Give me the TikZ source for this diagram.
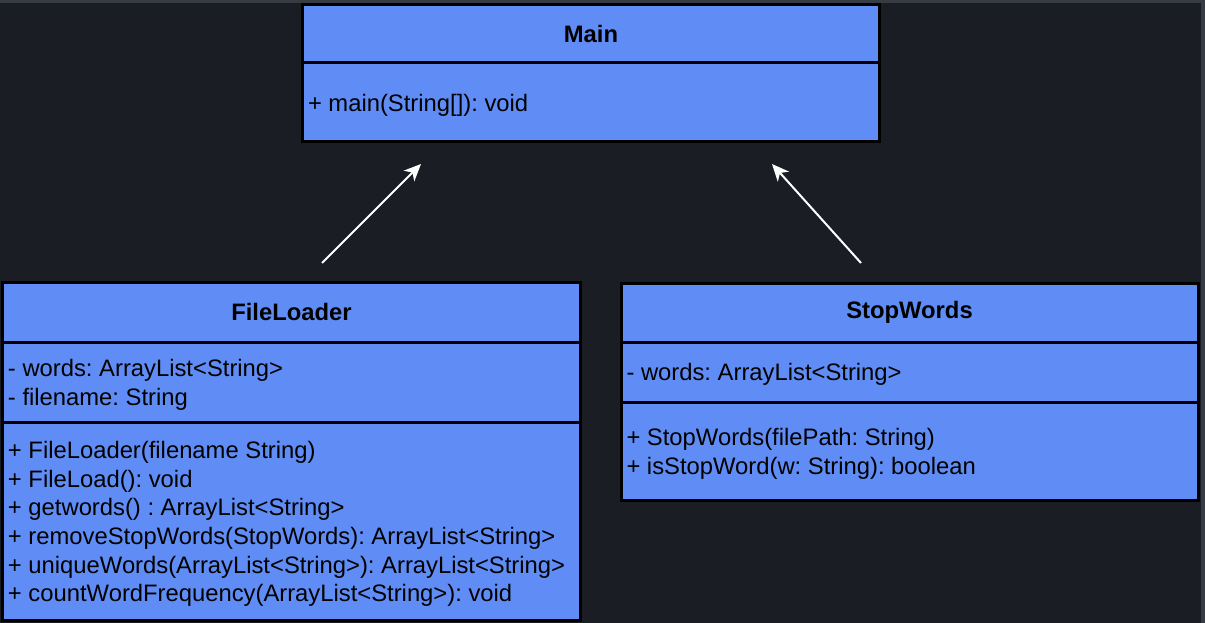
\documentclass[tikz,border=0pt]{standalone}
\usepackage{fontspec}
\setmainfont{Liberation Sans}
\usetikzlibrary{arrows.meta}
\definecolor{bgdark}{RGB}{26,29,35}
\definecolor{frameline}{RGB}{55,59,67}
\definecolor{umlfill}{RGB}{96,141,245}
\tikzset{
  comp/.style={draw=black, line width=3pt, fill=umlfill, rectangle, anchor=north west,
    inner xsep=4pt, inner ysep=0pt, outer sep=0pt, align=left,
    font=\fontsize{23.8}{28.6}\selectfont\frenchspacing},
  ctitle/.style={comp, align=center, font=\fontsize{23.8}{28.6}\selectfont\bfseries},
  ctext/.style={anchor=west, inner sep=0pt, outer sep=0pt, align=left,
    font=\fontsize{23.8}{28.6}\selectfont\frenchspacing},
  link/.style={draw=white, line width=2pt, -{Stealth[length=17pt,width=15pt,inset=5pt]}}
}
\begin{document}
\frenchspacing
\begin{tikzpicture}[x=1pt,y=-1pt]
\useasboundingbox (0,0) rectangle (1205,623);
\fill[frameline] (0,0) rectangle (1205,623);
\fill[bgdark] (0,3) rectangle (1201,623);

% Main
\node[ctitle, text width=569pt, minimum height=58.5pt] (mainT) at (302.5,4.5) {Main};
\node[comp, text width=569pt, minimum height=78.5pt] (mainM) at (302.5,63) {};
\node[ctext] (mainMt) at ([xshift=5.5pt,yshift=-3pt]mainM.west) {+ main(String[]): void};

% FileLoader
\node[ctitle, text width=570pt, minimum height=60pt] (flT) at (2.5,282) {FileLoader};
\node[comp, text width=570pt, minimum height=80pt] (flA) at (2.5,342) {};
\node[ctext] (flAt) at ([xshift=5.5pt,yshift=-3pt]flA.west) {- words: ArrayList<String>\\- filename: String};
\node[comp, text width=570pt, minimum height=198pt] (flM) at (2.5,422) {};
\node[ctext] (flMt) at ([xshift=5.5pt,yshift=-3pt]flM.west) {+ FileLoader(filename String)\\+ FileLoad(): void\\+ getwords() : ArrayList<String>\\+ removeStopWords(StopWords): ArrayList<String>\\+ uniqueWords(ArrayList<String>): ArrayList<String>\\+ countWordFrequency(ArrayList<String>): void};

% StopWords
\node[ctitle, text width=569pt, minimum height=59pt] (swT) at (621,283) {StopWords};
\node[comp, text width=569pt, minimum height=60pt] (swA) at (621,342) {};
\node[ctext] (swAt) at ([xshift=5.5pt,yshift=-2.5pt]swA.west) {- words: ArrayList<String>};
\node[comp, text width=569pt, minimum height=98pt] (swM) at (621,402) {};
\node[ctext] (swMt) at ([xshift=5.5pt,yshift=-3pt]swM.west) {+ StopWords(filePath: String)\\+ isStopWord(w: String): boolean};

% connectors
\coordinate (a1s) at (322,263);
\coordinate (a1e) at (421,164);
\coordinate (a2s) at (861,263);
\coordinate (a2e) at (772,164);
\draw[link] (a1s) -- (a1e);
\draw[link] (a2s) -- (a2e);
\end{tikzpicture}
\end{document}
